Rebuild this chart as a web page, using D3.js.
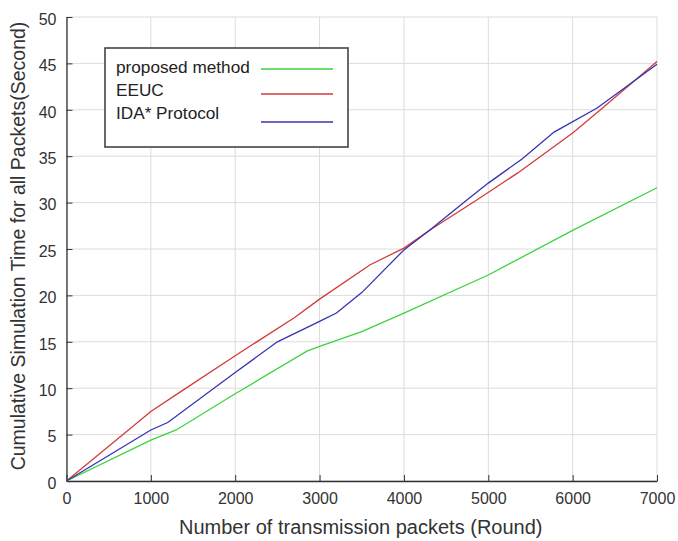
<!DOCTYPE html>
<html>
<head>
<meta charset="utf-8">
<script src="https://cdn.jsdelivr.net/npm/d3@7"></script>
<style>
  body { margin: 0; background: #fff; }
  svg { display: block; font-family: "Liberation Sans", Arial, sans-serif; }
</style>
</head>
<body>
<div id="chart"></div>
<script>
// ------------------------------
// Data
// ------------------------------
const seriesNames = ["proposed method", "EEUC", "IDA* Protocol"];

const proposedX = [0, 1000, 1300, 2000, 2850, 3000, 3500, 4000, 5000, 6000, 7000];
const proposedY = [0, 4.4, 5.5, 9.4, 14.0, 14.5, 16.1, 18.1, 22.2, 27.0, 31.6];

const eeucX = [0, 1000, 1350, 2000, 2700, 3000, 3600, 4000, 4300, 4850, 5350, 6000, 6330, 7000];
const eeucY = [0, 7.5, 9.6, 13.5, 17.6, 19.6, 23.3, 25.1, 27.0, 30.2, 33.2, 37.5, 40.0, 45.2];

const idaX = [0, 1000, 1200, 2000, 2500, 3000, 3200, 3500, 4000, 4300, 4750, 5000, 5400, 5780, 6290, 7000];
const idaY = [0, 5.5, 6.3, 11.7, 15.0, 17.2, 18.1, 20.3, 24.9, 27.0, 30.3, 32.1, 34.7, 37.6, 40.2, 44.9];

const xTicks = [0, 1000, 2000, 3000, 4000, 5000, 6000, 7000];
const yTicks = [0, 5, 10, 15, 20, 25, 30, 35, 40, 45, 50];

const seriesColors = ["#3dd33d", "#d43a3a", "#3434b0"];

// ------------------------------
// Layout
// ------------------------------
const width = 678;
const height = 541;
const plot = { left: 66.5, right: 657, top: 17, bottom: 481 };

const svg = d3.select("#chart").append("svg").attr("width", width).attr("height", height);

const x = d3.scaleLinear().domain([0, 7000]).range([plot.left, plot.right]);
const y = d3.scaleLinear().domain([0, 50]).range([plot.bottom, plot.top]);

// Grid lines
svg
  .append("g")
  .selectAll("line")
  .data(xTicks)
  .join("line")
  .attr("x1", (d) => x(d))
  .attr("x2", (d) => x(d))
  .attr("y1", plot.top)
  .attr("y2", plot.bottom)
  .attr("stroke", "#dcdcdc")
  .attr("stroke-width", 1);

svg
  .append("g")
  .selectAll("line")
  .data(yTicks)
  .join("line")
  .attr("x1", plot.left)
  .attr("x2", plot.right)
  .attr("y1", (d) => y(d))
  .attr("y2", (d) => y(d))
  .attr("stroke", "#dcdcdc")
  .attr("stroke-width", 1);

// Axes (ticks point inward, matlab style)
const xAxis = svg
  .append("g")
  .attr("transform", `translate(0,${plot.bottom})`)
  .call(d3.axisBottom(x).tickValues(xTicks).tickSizeInner(-6).tickSizeOuter(0).tickPadding(12).tickFormat(d3.format("d")));

const yAxis = svg
  .append("g")
  .attr("transform", `translate(${plot.left},0)`)
  .call(d3.axisLeft(y).tickValues(yTicks).tickSizeInner(-6).tickSizeOuter(0).tickPadding(10));

[xAxis, yAxis].forEach((g) => {
  g.select(".domain").attr("stroke", "#333").attr("stroke-width", 1.3);
  g.selectAll(".tick line").attr("stroke", "#333");
  g.selectAll(".tick text").attr("fill", "#333").style("font-size", "16px").style("font-family", "Liberation Sans, Arial, sans-serif");
});
yAxis.selectAll(".tick text").attr("dy", "0.45em");

// Axis labels
svg
  .append("text")
  .attr("x", (plot.left + plot.right) / 2 - 1)
  .attr("y", 534)
  .attr("text-anchor", "middle")
  .attr("fill", "#333")
  .style("font-size", "20px")
  .text("Number of transmission packets (Round)");

svg
  .append("text")
  .attr("transform", `translate(25,${(plot.top + plot.bottom) / 2 - 3}) rotate(-90)`)
  .attr("text-anchor", "middle")
  .attr("fill", "#333")
  .style("font-size", "19.5px")
  .text("Cumulative Simulation Time for all Packets(Second)");

// Lines
const seriesData = [
  proposedX.map((d, i) => [d, proposedY[i]]),
  eeucX.map((d, i) => [d, eeucY[i]]),
  idaX.map((d, i) => [d, idaY[i]]),
];

const line = d3
  .line()
  .x((d) => x(d[0]))
  .y((d) => y(d[1]));

svg
  .append("g")
  .selectAll("path")
  .data(seriesData)
  .join("path")
  .attr("d", line)
  .attr("fill", "none")
  .attr("stroke", (d, i) => seriesColors[i])
  .attr("stroke-width", 1.3);

// Legend
const legend = svg.append("g");
legend
  .append("rect")
  .attr("x", 105)
  .attr("y", 48)
  .attr("width", 243)
  .attr("height", 99)
  .attr("fill", "#fff")
  .attr("stroke", "#444")
  .attr("stroke-width", 1.6);

const legendTextY = [73, 96, 119];
const legendLineY = [69, 94, 122];

legend
  .selectAll("text")
  .data(seriesNames)
  .join("text")
  .attr("x", 116)
  .attr("y", (d, i) => legendTextY[i])
  .attr("fill", "#222")
  .style("font-size", "17.2px")
  .text((d) => d);

legend
  .selectAll("line")
  .data(seriesNames)
  .join("line")
  .attr("x1", 261)
  .attr("x2", 333)
  .attr("y1", (d, i) => legendLineY[i])
  .attr("y2", (d, i) => legendLineY[i])
  .attr("stroke", (d, i) => seriesColors[i])
  .attr("stroke-width", 1.3);
</script>
</body>
</html>
